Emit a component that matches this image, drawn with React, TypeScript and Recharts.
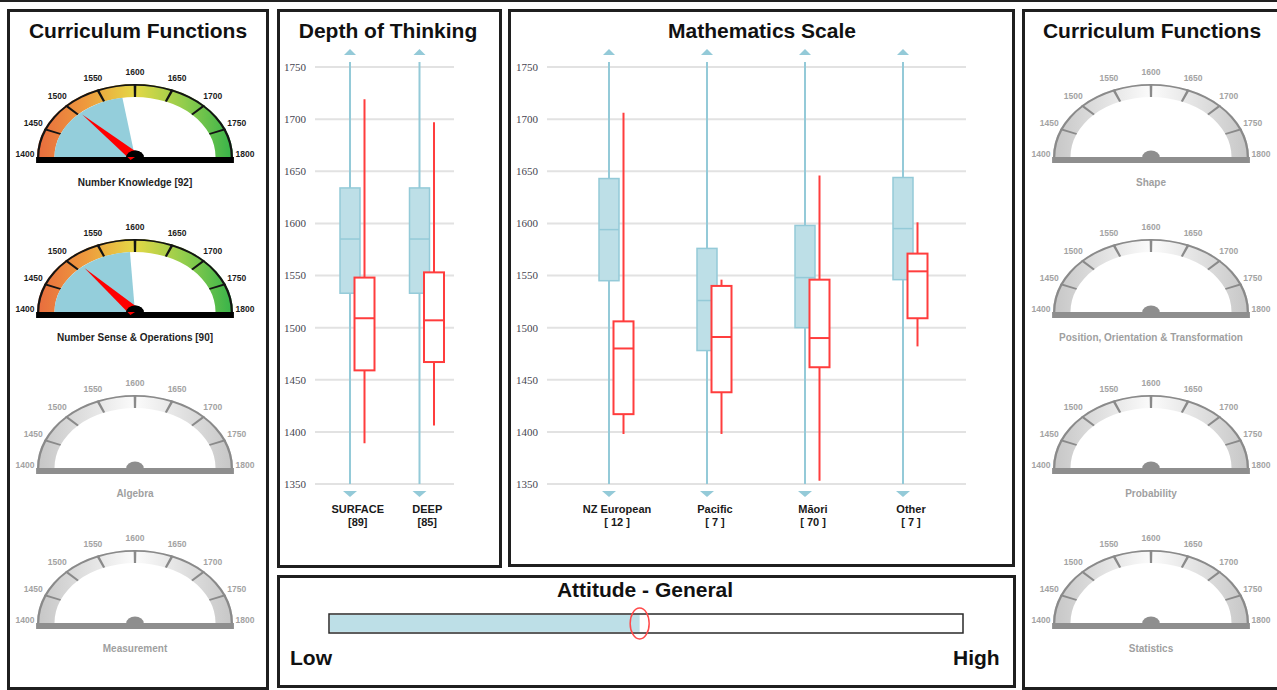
import React from 'react';
import { PieChart, Pie, Cell, BarChart, Bar, XAxis, YAxis, CartesianGrid, ReferenceDot } from 'recharts';

const SANS = '"Liberation Sans", Arial, Helvetica, sans-serif';
const SERIF = '"Liberation Serif", "Times New Roman", Times, serif';

// ---------------- Gauges (Curriculum Functions) ----------------
const gaugeTickValues = [1400, 1450, 1500, 1550, 1600, 1650, 1700, 1750, 1800];
const leftGaugeTitles = ['Number Knowledge [92]', 'Number Sense & Operations [90]', 'Algebra', 'Measurement'];
const leftGaugeNeedles: (number | null)[] = [1505, 1510, null, null];
const leftGaugeShades: (number | null)[] = [1580, 1592, null, null];
const rightGaugeTitles = ['Shape', 'Position, Orientation & Transformation', 'Probability', 'Statistics'];
const rightGaugeNeedles: (number | null)[] = [null, null, null, null];
const rightGaugeShades: (number | null)[] = [null, null, null, null];

// ---------------- Depth of Thinking ----------------
const depthCategories = ['SURFACE', 'DEEP'];
const depthCounts = ['[89]', '[85]'];
const depthBlueLow = [1350, 1350];
const depthBlueQ1 = [1533, 1533];
const depthBlueMedian = [1585, 1585];
const depthBlueQ3 = [1634, 1634];
const depthBlueHigh = [1750, 1750];
const depthRedLow = [1389, 1406];
const depthRedQ1 = [1459, 1467];
const depthRedMedian = [1509, 1507];
const depthRedQ3 = [1548, 1553];
const depthRedHigh = [1719, 1697];

// ---------------- Mathematics Scale ----------------
const mathCategories = ['NZ European', 'Pacific', 'Māori', 'Other'];
const mathCounts = ['[ 12 ]', '[ 7 ]', '[ 70 ]', '[ 7 ]'];
const mathBlueLow = [1350, 1350, 1350, 1350];
const mathBlueQ1 = [1545, 1478, 1500, 1546];
const mathBlueMedian = [1594, 1526, 1548, 1595];
const mathBlueQ3 = [1643, 1576, 1598, 1644];
const mathBlueHigh = [1750, 1750, 1750, 1750];
const mathRedLow = [1398, 1398, 1353, 1482];
const mathRedQ1 = [1417, 1438, 1462, 1509];
const mathRedMedian = [1480, 1491, 1490, 1554];
const mathRedQ3 = [1506, 1540, 1546, 1571];
const mathRedHigh = [1706, 1546, 1646, 1601];

const scaleTicks = [1350, 1400, 1450, 1500, 1550, 1600, 1650, 1700, 1750];

// ---------------- Attitude ----------------
const attitudeCategories = ['General'];
const attitudeValues = [0.49];

// ---------------- styles ----------------
const BLUE_FILL = '#bddfe7';
const BLUE_LINE = '#94cad8';
const RED = '#ff3d3d';
const GAUGE_SHADE = '#94cedb';
const SCALE_MIN = scaleTicks[0];
const SCALE_MAX = scaleTicks[scaleTicks.length - 1];

type Stats = { low: number; q1: number; median: number; q3: number; high: number };
type BoxRow = { name: string; count: string; blue: Stats; red: Stats };

function buildBoxData(
  cats: string[], counts: string[],
  bl: number[], bq1: number[], bm: number[], bq3: number[], bh: number[],
  rl: number[], rq1: number[], rm: number[], rq3: number[], rh: number[]
): BoxRow[] {
  return cats.map((name, i) => ({
    name,
    count: counts[i],
    blue: { low: bl[i], q1: bq1[i], median: bm[i], q3: bq3[i], high: bh[i] },
    red: { low: rl[i], q1: rq1[i], median: rm[i], q3: rq3[i], high: rh[i] },
  }));
}

const depthData = buildBoxData(depthCategories, depthCounts,
  depthBlueLow, depthBlueQ1, depthBlueMedian, depthBlueQ3, depthBlueHigh,
  depthRedLow, depthRedQ1, depthRedMedian, depthRedQ3, depthRedHigh);
const mathData = buildBoxData(mathCategories, mathCounts,
  mathBlueLow, mathBlueQ1, mathBlueMedian, mathBlueQ3, mathBlueHigh,
  mathRedLow, mathRedQ1, mathRedMedian, mathRedQ3, mathRedHigh);
const attitudeData = attitudeCategories.map((name, i) => ({ name, value: attitudeValues[i] }));

function makeBoxShape(series: 'blue' | 'red', offset: number) {
  return (props: any) => {
    const { x, y, width, height, payload } = props;
    const s: Stats = payload[series];
    const top = Math.min(y, y + height);
    const h = Math.abs(height);
    const k = s.high === s.low ? 0 : h / (s.high - s.low);
    const py = (v: number) => top + (s.high - v) * k;
    const cx = x + width / 2 + offset;
    const half = 10;
    const yHi = py(s.high);
    const yLo = py(s.low);
    if (series === 'blue') {
      const overHi = s.high >= SCALE_MAX;
      const overLo = s.low <= SCALE_MIN;
      return (
        <g>
          <line x1={cx} x2={cx} y1={overHi ? yHi - 5 : yHi} y2={yLo} stroke={BLUE_LINE} strokeWidth={2} />
          {overHi && <polygon points={`${cx - 6},${yHi - 12} ${cx + 6},${yHi - 12} ${cx},${yHi - 18}`} fill={BLUE_LINE} />}
          {overLo && <polygon points={`${cx - 7},${yLo + 7} ${cx + 7},${yLo + 7} ${cx},${yLo + 13}`} fill={BLUE_LINE} />}
          <rect x={cx - half} y={py(s.q3)} width={2 * half} height={py(s.q1) - py(s.q3)} fill={BLUE_FILL} stroke={BLUE_LINE} strokeWidth={1.5} />
          <line x1={cx - half} x2={cx + half} y1={py(s.median)} y2={py(s.median)} stroke={BLUE_LINE} strokeWidth={1.5} />
        </g>
      );
    }
    return (
      <g>
        <line x1={cx} x2={cx} y1={yHi} y2={yLo} stroke={RED} strokeWidth={2} />
        <rect x={cx - half} y={py(s.q3)} width={2 * half} height={py(s.q1) - py(s.q3)} fill="#fff" stroke={RED} strokeWidth={2} />
        <line x1={cx - half} x2={cx + half} y1={py(s.median)} y2={py(s.median)} stroke={RED} strokeWidth={2} />
      </g>
    );
  };
}

function makeCatTick(rows: BoxRow[], dx: number) {
  return (p: any) => {
    const name = p.payload?.value;
    const row = rows.find((r) => r.name === name);
    return (
      <g>
        <text x={p.x + dx} y={p.y + 29} textAnchor="middle" fontFamily={SANS} fontWeight="bold" fontSize={11} fill="#1a1a1a">{name}</text>
        <text x={p.x + dx} y={p.y + 42} textAnchor="middle" fontFamily={SANS} fontWeight="bold" fontSize={11} fill="#1a1a1a">{row ? row.count : ''}</text>
      </g>
    );
  };
}

function BoxChart({ data, left, width, rightMargin, padding, labelDx }: { data: BoxRow[]; left: number; width: number; rightMargin: number; padding: { left: number; right: number }; labelDx: number }) {
  return (
    <div style={{ position: 'absolute', left, top: 40 }}>
      <BarChart width={width} height={500} data={data} margin={{ top: 27, right: rightMargin, bottom: 0, left: 0 }} barSize={20} barGap={-20}>
        <CartesianGrid vertical={false} stroke="#e2e2e2" strokeWidth={2} />
        <XAxis dataKey="name" type="category" padding={padding} axisLine={false} tickLine={false} tickSize={0} tickMargin={0} interval={0} height={56} tick={makeCatTick(data, labelDx)} />
        <YAxis type="number" domain={[SCALE_MIN, SCALE_MAX]} ticks={scaleTicks} width={38} axisLine={false} tickLine={false} tickSize={0} tickMargin={9}
          tick={{ fontFamily: SERIF, fontSize: 11, fill: '#454550' }} />
        <Bar dataKey={(d: BoxRow) => [d.blue.low, d.blue.high]} shape={makeBoxShape('blue', 0)} isAnimationActive={false} />
        <Bar dataKey={(d: BoxRow) => [d.red.low, d.red.high]} shape={makeBoxShape('red', 14.5)} isAnimationActive={false} />
      </BarChart>
    </div>
  );
}

// ---------------- gauge ----------------
const GS = 1.342;
const R_OUT = 73;
const R_IN = 60;
const HUB_R = 6.5;
const GW = 200;
const GH = 100;
const GCX = 100;
const GCY = 90;

function Gauge({ id, cx, cy, title, needle, shade }: { id: string; cx: number; cy: number; title: string; needle: number | null; shade: number | null }) {
  const colored = needle != null;
  const min = gaugeTickValues[0];
  const max = gaugeTickValues[gaugeTickValues.length - 1];
  const span = max - min;
  const step = gaugeTickValues[1] - gaugeTickValues[0];
  const pad = (step / 2 / span) * 180;
  const gradId = `gauge-grad-${id}`;
  const tw = 3.5;
  const tickSlices: { v: number; tick: boolean }[] = [];
  let prev = min;
  gaugeTickValues.slice(1, -1).forEach((t) => {
    tickSlices.push({ v: t - tw / 2 - prev, tick: false });
    tickSlices.push({ v: tw, tick: true });
    prev = t + tw / 2;
  });
  tickSlices.push({ v: max - prev, tick: false });
  const labelSlices = gaugeTickValues.map((t) => ({ label: String(t), v: step }));
  const textColor = colored ? '#1c1c1c' : '#a3a3a3';
  const lineColor = colored ? '#141414' : '#8a8a8a';
  const baseColor = colored ? '#000' : '#8e8e8e';
  const inv = 1 / GS;
  const RAD = Math.PI / 180;

  const renderLabel = (p: any) => {
    const r = R_OUT + 9;
    const x = p.cx + r * Math.cos(-p.midAngle * RAD);
    const y = p.cy + r * Math.sin(-p.midAngle * RAD) - 3;
    const txt = p.payload?.label ?? p.payload?.payload?.label ?? p.name;
    return (
      <text key={`l-${txt}`} x={x} y={y} transform={`translate(${x} ${y}) scale(${inv} 1) translate(${-x} ${-y})`} textAnchor="middle" dominantBaseline="central"
        fontFamily={SANS} fontWeight="bold" fontSize={8.5} fill={textColor}>{txt}</text>
    );
  };

  const renderNeedle = (p: any) => {
    if (p.index !== 0) return null;
    const a = p.endAngle * RAD;
    const L = R_IN - 2;
    const hw = 4.5;
    const tx = p.cx + L * Math.cos(a);
    const ty = p.cy - L * Math.sin(a);
    const bx = hw * Math.sin(a);
    const by = hw * Math.cos(a);
    return (
      <g key="needle">
        <polygon points={`${tx},${ty} ${p.cx + bx},${p.cy + by} ${p.cx - bx},${p.cy - by}`} fill="#ff0000" />
        <path d={`M ${p.cx - HUB_R} ${p.cy} A ${HUB_R} ${HUB_R} 0 0 1 ${p.cx + HUB_R} ${p.cy} Z`} fill={baseColor} />
      </g>
    );
  };

  return (
    <>
      <div style={{ position: 'absolute', left: cx - GCX, top: cy - GCY, width: GW, height: GH, transform: `scaleX(${GS})`, transformOrigin: `${GCX}px 0px` }}>
        <PieChart width={GW} height={GH} margin={{ top: 0, right: 0, bottom: 0, left: 0 }}>
          <defs>
            <linearGradient id={gradId} x1="0" y1="0" x2="1" y2="0">
              {colored ? (
                <>
                  <stop offset="0%" stopColor="#e86c3e" />
                  <stop offset="25%" stopColor="#ee9a3d" />
                  <stop offset="50%" stopColor="#e4d846" />
                  <stop offset="75%" stopColor="#92cd4c" />
                  <stop offset="100%" stopColor="#36b34a" />
                </>
              ) : (
                <>
                  <stop offset="0%" stopColor="#c6c6c6" />
                  <stop offset="50%" stopColor="#fbfbfb" />
                  <stop offset="100%" stopColor="#c6c6c6" />
                </>
              )}
            </linearGradient>
          </defs>
          <Pie data={[{ v: span }]} dataKey="v" cx={GCX} cy={GCY} startAngle={180} endAngle={0} innerRadius={R_IN} outerRadius={R_OUT}
            fill={`url(#${gradId})`} stroke="none" isAnimationActive={false} />
          <Pie data={[{ v: span }]} dataKey="v" cx={GCX} cy={GCY} startAngle={180} endAngle={0} innerRadius={R_OUT - 1.7} outerRadius={R_OUT}
            fill={lineColor} stroke="none" isAnimationActive={false} />
          <Pie data={tickSlices} dataKey="v" cx={GCX} cy={GCY} startAngle={180} endAngle={0} innerRadius={R_IN} outerRadius={R_OUT}
            stroke="none" isAnimationActive={false}>
            {tickSlices.map((s, i) => <Cell key={i} fill={s.tick ? lineColor : 'none'} stroke="none" />)}
          </Pie>
          {shade != null && (
            <Pie data={[{ v: shade - min }, { v: max - shade }]} dataKey="v" cx={GCX} cy={GCY} startAngle={180} endAngle={0} innerRadius={0} outerRadius={R_IN}
              stroke="none" isAnimationActive={false}>
              <Cell fill={GAUGE_SHADE} stroke="none" />
              <Cell fill="none" stroke="none" />
            </Pie>
          )}
          <Pie data={labelSlices} dataKey="v" nameKey="label" cx={GCX} cy={GCY} startAngle={180 + pad} endAngle={-pad} innerRadius={0} outerRadius={R_OUT}
            fill="none" stroke="none" label={renderLabel} labelLine={false} isAnimationActive={false} />
          <Pie data={[{ v: 1 }]} dataKey="v" cx={GCX} cy={GCY} startAngle={180} endAngle={0} innerRadius={0} outerRadius={HUB_R}
            fill={baseColor} stroke="none" isAnimationActive={false} />
          {needle != null && (
            <Pie data={[{ v: needle - min }, { v: max - needle }]} dataKey="v" cx={GCX} cy={GCY} startAngle={180} endAngle={0} innerRadius={0} outerRadius={R_IN}
              fill="none" stroke="none" label={renderNeedle} labelLine={false} isAnimationActive={false} />
          )}
          <rect x={GCX - R_OUT - 0.7} y={GCY} width={2 * R_OUT + 1.4} height={6} fill={baseColor} />
        </PieChart>
      </div>
      <div style={{ position: 'absolute', left: cx - 130, width: 260, top: cy + 29 - 9.5, textAlign: 'center', fontFamily: SANS, fontWeight: 'bold', fontSize: 10, lineHeight: '12px', color: colored ? '#1e1e1e' : '#9f9f9f', whiteSpace: 'nowrap' }}>
        {title}
      </div>
    </>
  );
}

const gaugeRows = [157, 312, 468, 623];

function Panel({ left, top, width, height }: { left: number; top: number; width: number; height: number }) {
  return <div style={{ position: 'absolute', left, top, width, height, border: '3px solid #1f1f1f', boxSizing: 'border-box' }} />;
}

function Title({ cx, baseline, text, size = 21 }: { cx: number; baseline: number; text: string; size?: number }) {
  return (
    <div style={{ position: 'absolute', left: cx - 200, width: 400, top: baseline - 19.3, textAlign: 'center', fontFamily: SANS, fontWeight: 'bold', fontSize: size, lineHeight: '24px', color: '#111', whiteSpace: 'nowrap' }}>
      {text}
    </div>
  );
}

const AttitudeFill = (p: any) => (
  <rect x={p.x + 1} y={p.y + 1} width={Math.max(0, p.width - 1)} height={Math.max(0, p.height - 2)} fill={BLUE_FILL} />
);

const AttitudeMarker = (p: any) => (
  <ellipse cx={p.cx} cy={p.cy} rx={9.5} ry={15.5} fill="none" stroke="#ff4a4a" strokeWidth={1.5} />
);

export default function App() {
  return (
    <div style={{ position: 'fixed', left: 0, top: 0, width: 1277, height: 690, background: '#fff', overflow: 'hidden', fontFamily: SANS }}>
      <div style={{ position: 'absolute', left: 0, top: 0, width: 1277, height: 2, background: '#222' }} />
      <Panel left={7} top={9} width={262} height={681} />
      <Panel left={277} top={9} width={225} height={559} />
      <Panel left={508} top={9} width={507} height={558} />
      <Panel left={277} top={575} width={739} height={113} />
      <Panel left={1022} top={9} width={262} height={681} />

      <Title cx={138} baseline={38} text="Curriculum Functions" />
      <Title cx={388} baseline={38} text="Depth of Thinking" />
      <Title cx={762} baseline={38} text="Mathematics Scale" />
      <Title cx={1152} baseline={38} text="Curriculum Functions" />
      <Title cx={645} baseline={597} text="Attitude - General" />

      {leftGaugeTitles.map((t, i) => (
        <Gauge key={`L${i}`} id={`L${i}`} cx={135} cy={gaugeRows[i]} title={t} needle={leftGaugeNeedles[i]} shade={leftGaugeShades[i]} />
      ))}
      {rightGaugeTitles.map((t, i) => (
        <Gauge key={`R${i}`} id={`R${i}`} cx={1151} cy={gaugeRows[i]} title={t} needle={rightGaugeNeedles[i]} shade={rightGaugeShades[i]} />
      ))}

      <BoxChart data={depthData} left={277} width={200} rightMargin={23} padding={{ left: 0, right: 0 }} labelDx={8} />
      <BoxChart data={mathData} left={509} width={477} rightMargin={20} padding={{ left: 13, right: 14 }} labelDx={8} />

      <div style={{ position: 'absolute', left: 277, top: 578 }}>
        <BarChart layout="vertical" width={739} height={80} data={attitudeData} margin={{ top: 35, right: 53, bottom: 24, left: 52 }}>
          <XAxis type="number" domain={[0, 1]} hide />
          <YAxis type="category" dataKey="name" hide />
          <Bar dataKey="value" barSize={21} background={{ fill: '#fff', stroke: '#2a2a2a', strokeWidth: 1.5 }} shape={AttitudeFill} isAnimationActive={false} />
          <ReferenceDot x={attitudeValues[0]} y={attitudeCategories[0]} r={10} shape={AttitudeMarker} />
        </BarChart>
      </div>
      <div style={{ position: 'absolute', left: 290, top: 665 - 19.3, fontFamily: SANS, fontWeight: 'bold', fontSize: 21, lineHeight: '24px', color: '#111' }}>Low</div>
      <div style={{ position: 'absolute', left: 953, top: 665 - 19.3, fontFamily: SANS, fontWeight: 'bold', fontSize: 21, lineHeight: '24px', color: '#111' }}>High</div>
    </div>
  );
}
